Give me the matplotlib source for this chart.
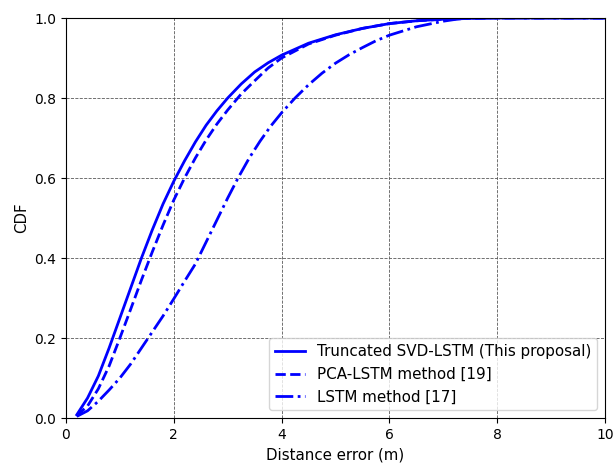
import matplotlib
matplotlib.use("Agg")
import matplotlib.pyplot as plt

svd_x = [0.2, 0.4, 0.6, 0.8, 1.0, 1.2, 1.4, 1.6, 1.8, 2.0, 2.2, 2.4, 2.6, 2.8, 3.0, 3.25, 3.5, 3.75, 4.0, 4.5, 5.0, 5.5, 6.0, 6.5, 7.0, 7.5, 8.0, 10.0]
svd_y = [0.008, 0.05, 0.105, 0.175, 0.25, 0.325, 0.40, 0.47, 0.535, 0.592, 0.643, 0.69, 0.732, 0.768, 0.80, 0.835, 0.865, 0.888, 0.907, 0.937, 0.958, 0.974, 0.986, 0.993, 0.997, 0.999, 1.0, 1.0]

pca_x = [0.2, 0.4, 0.6, 0.8, 1.0, 1.2, 1.4, 1.6, 1.8, 2.0, 2.2, 2.4, 2.6, 2.8, 3.0, 3.25, 3.5, 3.75, 4.0, 4.5, 5.0, 5.5, 6.0, 6.5, 7.0, 7.5, 8.0, 10.0]
pca_y = [0.006, 0.03, 0.073, 0.13, 0.20, 0.272, 0.345, 0.415, 0.482, 0.545, 0.60, 0.65, 0.695, 0.735, 0.77, 0.81, 0.843, 0.875, 0.90, 0.935, 0.957, 0.974, 0.986, 0.993, 0.997, 0.999, 1.0, 1.0]

lstm_x = [0.2, 0.4, 0.6, 0.8, 1.0, 1.2, 1.4, 1.6, 1.8, 2.0, 2.2, 2.4, 2.6, 2.8, 3.0, 3.2, 3.4, 3.6, 3.8, 4.0, 4.25, 4.5, 4.75, 5.0, 5.25, 5.5, 5.75, 6.0, 6.5, 7.0, 7.25, 7.5, 10.0]
lstm_y = [0.004, 0.018, 0.042, 0.07, 0.10, 0.135, 0.175, 0.215, 0.255, 0.298, 0.342, 0.385, 0.44, 0.495, 0.55, 0.602, 0.65, 0.692, 0.73, 0.763, 0.80, 0.833, 0.862, 0.887, 0.908, 0.926, 0.943, 0.957, 0.978, 0.992, 0.997, 1.0, 1.0]

labels = ["Truncated SVD-LSTM (This proposal)", "PCA-LSTM method [19]", "LSTM method [17]"]

fig = plt.figure(figsize=(6.14, 4.66), dpi=100)
ax = fig.add_axes([66/614, 1-418/466, (605-66)/614, (418-18)/466])
ax.plot(svd_x, svd_y, color='blue', linestyle='-', linewidth=2, label=labels[0])
ax.plot(pca_x, pca_y, color='blue', linestyle='--', linewidth=2, label=labels[1])
ax.plot(lstm_x, lstm_y, color='blue', linestyle='-.', linewidth=2, label=labels[2])
ax.set_xlim(0, 10)
ax.set_ylim(0, 1)
ax.set_xticks([0, 2, 4, 6, 8, 10])
ax.set_yticks([0.0, 0.2, 0.4, 0.6, 0.8, 1.0])
ax.grid(True, color='0.35', linestyle='--', linewidth=0.6)
ax.set_xlabel("Distance error (m)", fontsize=10.8)
ax.set_ylabel("CDF", fontsize=10.8)
ax.legend(loc='lower right', fontsize=10.9)
fig.savefig("out.png", dpi=100)
